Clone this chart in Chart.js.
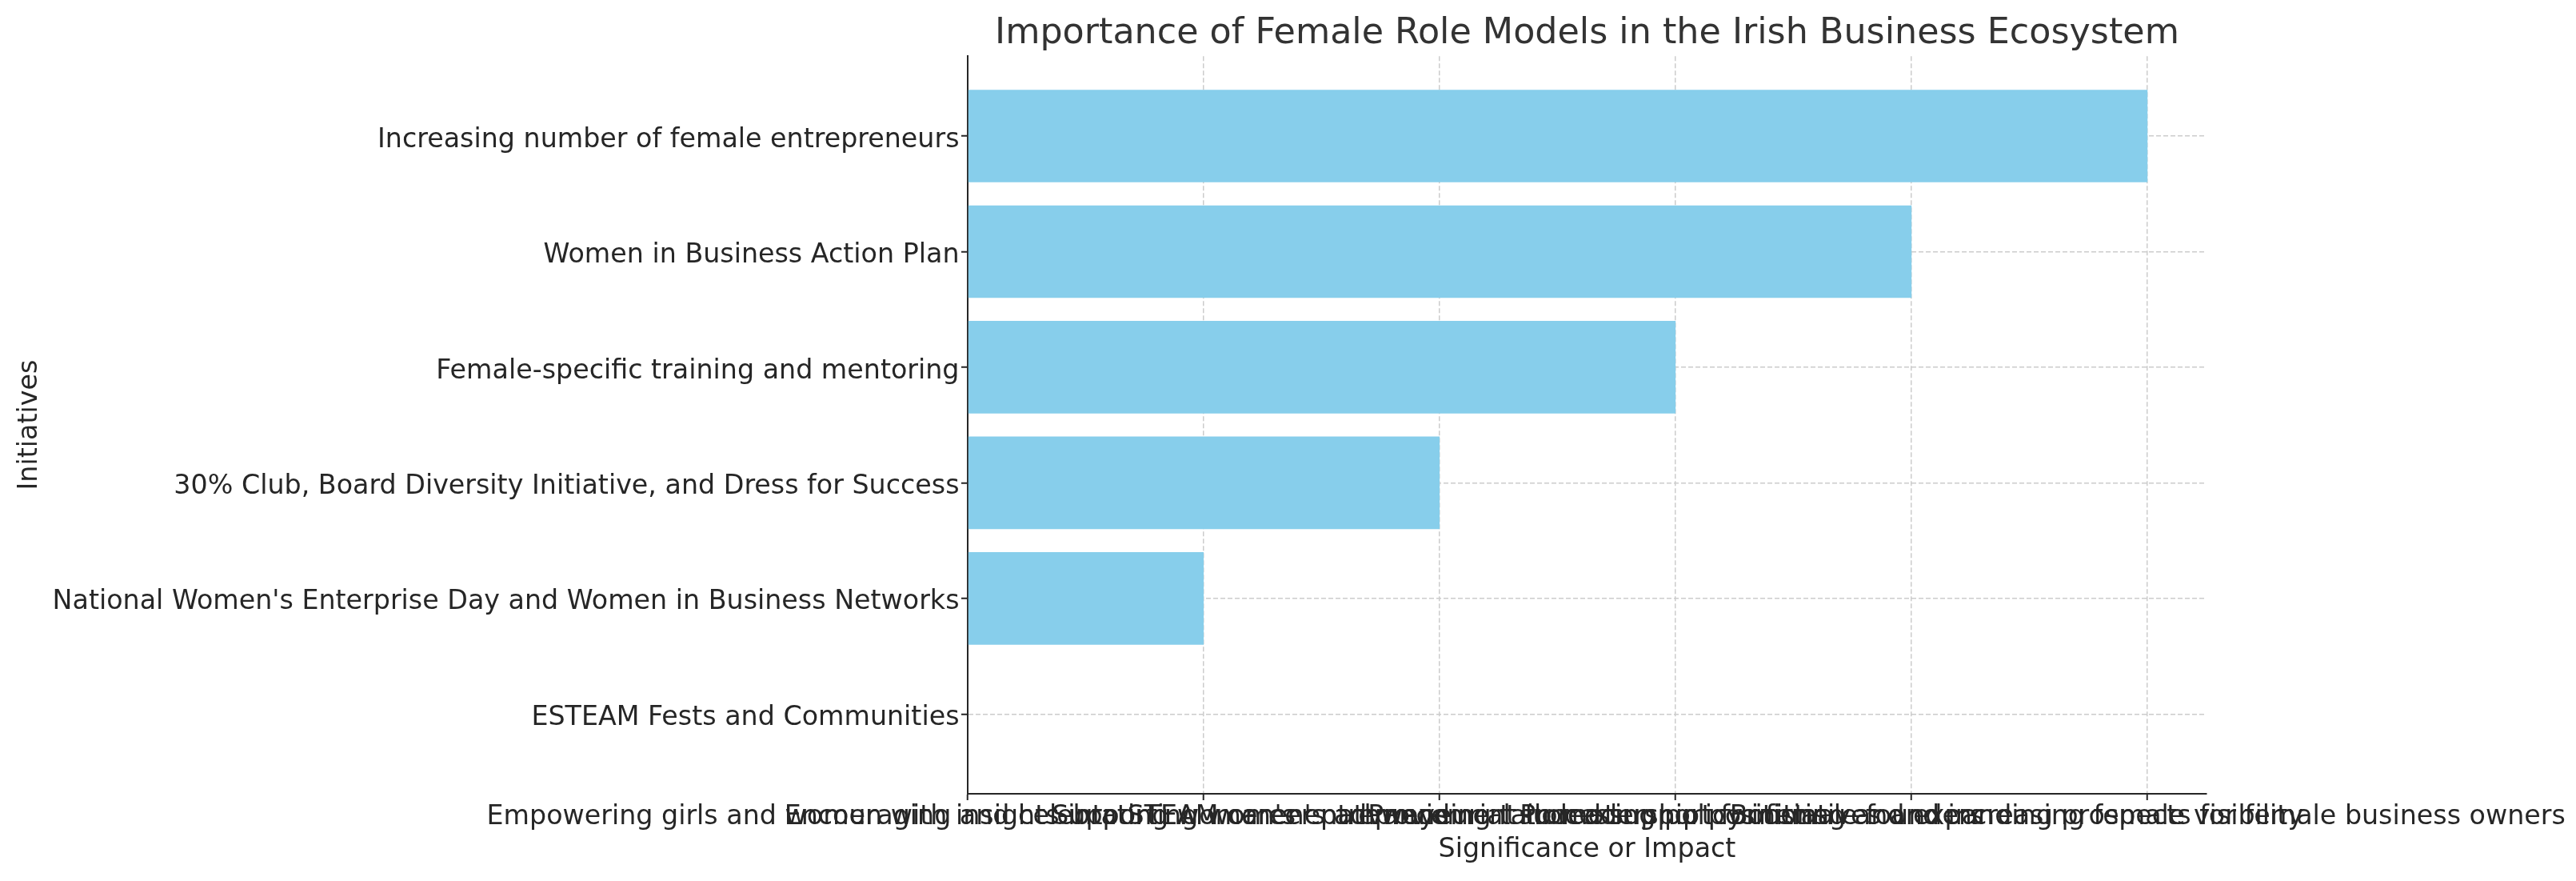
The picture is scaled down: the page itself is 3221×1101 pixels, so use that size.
<!DOCTYPE html>
<html>
<head>
<meta charset="utf-8">
<script src="https://cdn.jsdelivr.net/npm/chart.js@4"></script>
<style>
  html, body { margin: 0; padding: 0; background: #fff; }
  canvas { display: block; }
</style>
</head>
<body>
<canvas id="chart" width="3221" height="1101"></canvas>
<script>
// Initiatives, listed top to bottom as in the chart
const initiatives = [
  "Increasing number of female entrepreneurs",
  "Women in Business Action Plan",
  "Female-specific training and mentoring",
  "30% Club, Board Diversity Initiative, and Dress for Success",
  "National Women's Enterprise Day and Women in Business Networks",
  "ESTEAM Fests and Communities",
];

// Categorical x axis (significance / impact), left to right
const impactLabels = [
  "Empowering girls and women with insights into STEAM career pathways",
  "Encouraging and celebrating women's entrepreneurial success",
  "Supporting women's advancement to leadership positions",
  "Providing tailored support for female founders",
  "Promoting policy initiatives and increasing female visibility",
  "Boosting and expanding prospects for female business owners",
];

// Position of each initiative on the impact axis (index into impactLabels)
const impactRank = [5, 4, 3, 2, 1, 0];

const FONT = "'DejaVu Sans', sans-serif";
const TEXT = "#262626";

const ctx = document.getElementById("chart").getContext("2d");

new Chart(ctx, {
  type: "bar",
  data: {
    datasets: [
      {
        data: impactRank.map((v, i) => ({ x: v, y: i })),
        backgroundColor: "#87CEEB",
        borderWidth: 0,
        barPercentage: 0.8,
        categoryPercentage: 1,
      },
    ],
  },
  options: {
    indexAxis: "y",
    responsive: false,
    animation: false,
    layout: {
      padding: { left: 5, right: 462, top: 0, bottom: 19 },
    },
    plugins: {
      legend: { display: false },
      tooltip: { enabled: false },
      title: {
        display: true,
        text: "Importance of Female Role Models in the Irish Business Ecosystem",
        color: "#333333",
        fullSize: false,
        font: { family: FONT, size: 44.4, weight: "normal" },
        padding: { top: 16, bottom: 1 },
      },
    },
    scales: {
      x: {
        type: "linear",
        min: 0,
        max: 5.25,
        afterBuildTicks: (scale) => {
          scale.ticks = impactLabels.map((_, i) => ({ value: i }));
        },
        afterFit: (scale) => {
          scale.height = 90;
          scale.paddingLeft = 0;
          scale.paddingRight = 0;
        },
        ticks: {
          autoSkip: false,
          maxRotation: 0,
          minRotation: 0,
          padding: 1,
          color: TEXT,
          font: { family: FONT, size: 33.3 },
          callback: (value) => impactLabels[value],
        },
        grid: {
          color: "#cccccc",
          lineWidth: 1.5,
          tickLength: 8,
          tickColor: TEXT,
          tickWidth: 2,
        },
        border: { color: TEXT, width: 2, dash: [6, 3] },
        title: {
          display: true,
          text: "Significance or Impact",
          color: TEXT,
          font: { family: FONT, size: 33.3 },
          padding: { top: 3, bottom: 0 },
        },
      },
      y: {
        type: "linear",
        reverse: true,
        offset: false,
        min: -0.69,
        max: 5.69,
        afterBuildTicks: (scale) => {
          scale.ticks = initiatives.map((_, i) => ({ value: i }));
        },
        afterFit: (scale) => {
          scale.width = 1205;
          scale.paddingTop = 0;
          scale.paddingBottom = 0;
        },
        ticks: {
          autoSkip: false,
          padding: 2.5,
          labelOffset: 5,
          color: TEXT,
          font: { family: FONT, size: 33.3 },
          callback: (value) => initiatives[value],
        },
        grid: {
          offset: false,
          color: "#cccccc",
          lineWidth: 1.5,
          tickLength: 8,
          tickColor: TEXT,
          tickWidth: 2,
        },
        border: { color: TEXT, width: 2, dash: [6, 3] },
        title: {
          display: true,
          text: "Initiatives",
          color: TEXT,
          font: { family: FONT, size: 33.3 },
          padding: { top: 12, bottom: 5 },
        },
      },
    },
  },
});
</script>
</body>
</html>
